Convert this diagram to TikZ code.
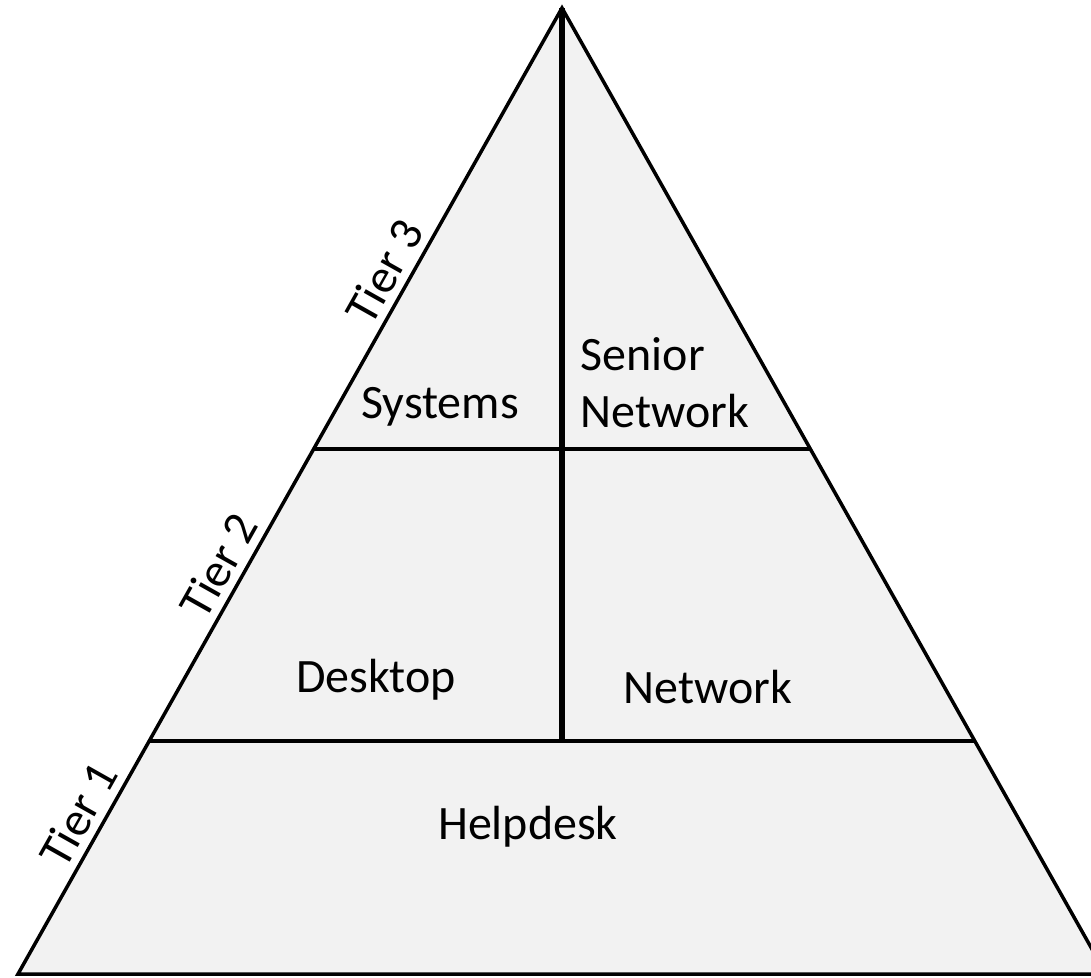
\documentclass[tikz,border=0pt]{standalone}
\usepackage{fontspec}
\setmainfont{Carlito}
\usetikzlibrary{positioning}
\definecolor{tierfill}{HTML}{F2F2F2}

\begin{document}
\begin{tikzpicture}[x=0.02cm, y=-0.02cm,
	txt/.style={font=\fontsize{27.3}{32.3}\selectfont, inner sep=0pt},
	tier/.style={txt, sloped, above, inner sep=5pt},
	divider/.style={line width=2.6pt}]
	\useasboundingbox (0,0) rectangle (1091,977);
	\clip (0,0) rectangle (1091,977);
	
	\coordinate (top) at (562,8);
	\coordinate (bl) at (18,974);
	\coordinate (br) at (1106,974);
	\coordinate (t3l) at (313,449);
	\coordinate (t3r) at (811,449);
	\coordinate (t2l) at (149,741);
	\coordinate (t2r) at (975,741);
	\coordinate (mid) at (562,741);
	
	\filldraw[fill=tierfill, line width=2pt] (bl) -- (top) -- (br) -- cycle;
	\draw[divider] (t3l) -- (t3r);
	\draw[divider] (t2l) -- (t2r);
	\draw[divider, line width=3pt] (top) -- (mid);
	
	\path (bl) -- (top)
		node[tier, pos=0.152] (tier1) {Tier 1}
		node[tier, pos=0.410] (tier2) {Tier 2}
		node[tier, pos=0.714] (tier3) {Tier 3};
	
	\node[txt] (systems) at (440,407) {Systems};
	\node[txt, align=left] (senior) at (665,383) {Senior\\Network};
	\node[txt] (desktop) at (376,680) {Desktop};
	\node[txt] (network) at (708,687) {Network};
	\node[txt] (helpdesk) at (528,827) {Helpdesk};
\end{tikzpicture}
\end{document}
